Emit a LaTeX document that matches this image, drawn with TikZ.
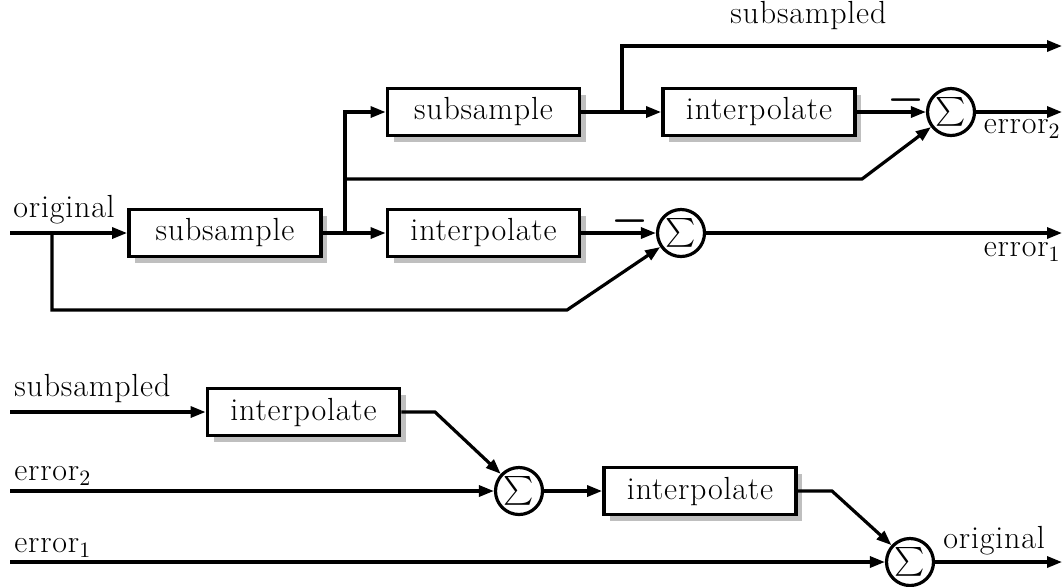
\documentclass[tikz,border=0pt]{standalone}
\usepackage{amsmath}
\usepackage{fontspec}
\newfontfamily\lsfont{Latin Modern Roman}[LetterSpace=2.5]
\usetikzlibrary{arrows.meta,shadows}
\begin{document}
\begin{tikzpicture}[x=0.5pt,y=-0.5pt,
  every node/.style={font=\lsfont\fontsize{16}{19}\selectfont},
  blk/.style={draw, line width=1.9pt, fill=white, minimum width=96pt, minimum height=23.5pt, inner sep=0pt,
    drop shadow={shadow xshift=3pt, shadow yshift=-3pt, fill=black!25, opacity=1}},
  sumn/.style={circle, draw, line width=1.6pt, minimum size=23.5pt, inner sep=0pt, fill=white, font=\fontsize{14.4}{15}\selectfont},
  ln/.style={line width=1.6pt},
  conn/.style={line width=1.6pt, -{Triangle[length=7.5pt,width=5.5pt]}},
  lbl/.style={inner sep=0pt},
  minuslbl/.style={inner sep=0pt, font=\fontsize{20}{20}\selectfont}
]
\useasboundingbox (0,0) rectangle (1063,586);

% ---------- top: analysis ----------
\node[blk] (b1) at (225,233) {subsample};
\node[blk] (b2) at (483.5,112) {subsample};
\node[blk] (b3) at (483.5,233) {interpolate};
\node[blk] (b4) at (759,112) {interpolate};
\node[sumn] (s1) at (681,233) {$\sum$};
\node[sumn] (s2) at (951,112) {$\sum$};

\coordinate (in0) at (10,233);
\coordinate (j0) at (52,233);
\coordinate (c1) at (567,310);
\coordinate (j1) at (345,233);
\coordinate (j2) at (345,179);
\coordinate (c2) at (862,179);
\coordinate (j3) at (622,112);
\coordinate (o1) at (1062,46);
\coordinate (o2) at (1062,112);
\coordinate (o3) at (1062,233);

\draw[conn] (in0) -- (b1.west);
\draw[conn] (j0) |- (c1) -- (s1);
\draw[ln] (b1.east) -- (j1);
\draw[conn] (j1) -- (b3.west);
\draw[conn] (j1) |- (b2.west);
\draw[conn] (j2) -- (c2) -- (s2);
\draw[ln] (b2.east) -- (j3);
\draw[conn] (j3) -- (b4.west);
\draw[conn] (j3) |- (o1);
\draw[conn] (b4.east) -- (s2);
\draw[conn] (s2) -- (o2);
\draw[conn] (b3.east) -- (s1);
\draw[conn] (s1) -- (o3);

\node[minuslbl] (m2) at (906,100) {{\boldmath$-$}};
\node[minuslbl] (m1) at (630,221) {{\boldmath$-$}};

\node[lbl, anchor=base west] (l1) at (13,217) {original};
\node[lbl, anchor=base west] (l2) at (730,23) {subsampled};
\node[lbl, anchor=base east] (l3) at (1061,133) {error$_2$};
\node[lbl, anchor=base east] (l4) at (1061,256) {error$_1$};

% ---------- bottom: synthesis ----------
\node[blk] (b5) at (303.5,412) {interpolate};
\node[sumn] (s3) at (519,491) {$\sum$};
\node[blk] (b6) at (700,491) {interpolate};
\node[sumn] (s4) at (910,562) {$\sum$};

\coordinate (i1) at (10,412);
\coordinate (i2) at (10,491);
\coordinate (i3) at (10,562);
\coordinate (c3) at (435,412);
\coordinate (c4) at (832,491);
\coordinate (o4) at (1062,562);

\draw[conn] (i1) -- (b5.west);
\draw[conn] (b5.east) -- (c3) -- (s3);
\draw[conn] (i2) -- (s3);
\draw[conn] (s3) -- (b6.west);
\draw[conn] (b6.east) -- (c4) -- (s4);
\draw[conn] (i3) -- (s4);
\draw[conn] (s4) -- (o4);

\node[lbl, anchor=base west] (l5) at (14,396) {subsampled};
\node[lbl, anchor=base west] (l6) at (14,480) {error$_2$};
\node[lbl, anchor=base west] (l7) at (14,552) {error$_1$};
\node[lbl, anchor=base west] (l8) at (943,548) {original};
\end{tikzpicture}
\end{document}
